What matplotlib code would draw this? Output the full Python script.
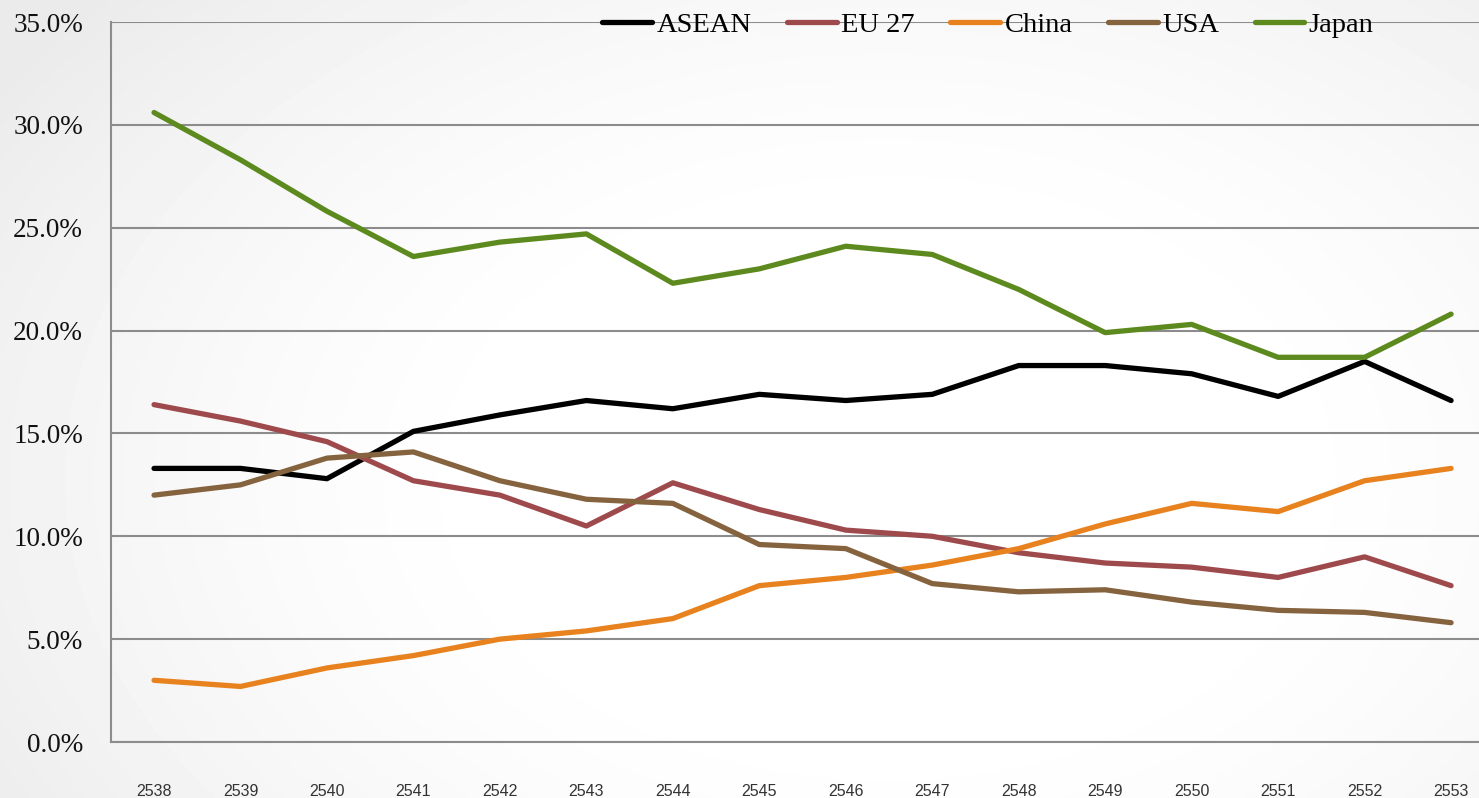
import numpy as np
import matplotlib.pyplot as plt
from matplotlib.ticker import PercentFormatter

years = ['2538', '2539', '2540', '2541', '2542', '2543', '2544', '2545',
         '2546', '2547', '2548', '2549', '2550', '2551', '2552', '2553']

asean = [13.3, 13.3, 12.8, 15.1, 15.9, 16.6, 16.2, 16.9, 16.6, 16.9, 18.3, 18.3, 17.9, 16.8, 18.5, 16.6]
eu27 = [16.4, 15.6, 14.6, 12.7, 12.0, 10.5, 12.6, 11.3, 10.3, 10.0, 9.2, 8.7, 8.5, 8.0, 9.0, 7.6]
china = [3.0, 2.7, 3.6, 4.2, 5.0, 5.4, 6.0, 7.6, 8.0, 8.6, 9.4, 10.6, 11.6, 11.2, 12.7, 13.3]
usa = [12.0, 12.5, 13.8, 14.1, 12.7, 11.8, 11.6, 9.6, 9.4, 7.7, 7.3, 7.4, 6.8, 6.4, 6.3, 5.8]
japan = [30.6, 28.3, 25.8, 23.6, 24.3, 24.7, 22.3, 23.0, 24.1, 23.7, 22.0, 19.9, 20.3, 18.7, 18.7, 20.8]

series = [('ASEAN', asean, '#000000'),
          ('EU 27', eu27, '#9E4A4C'),
          ('China', china, '#E8821E'),
          ('USA', usa, '#85633F'),
          ('Japan', japan, '#5D8A1E')]

fig = plt.figure(figsize=(14.79, 7.98), dpi=100)

# faint gray gradient background, darker toward the left and bottom-right
bg = fig.add_axes([0, 0, 1, 1], zorder=-10)
yy, xx = np.mgrid[0:1:200j, 0:1:400j]
d = np.sqrt(((xx - 0.6) / 0.8) ** 2 + ((yy - 0.6) / 1.0) ** 2)
shade = 1 - 0.08 * np.clip((d - 0.3) / 0.6, 0, 1) ** 1.5
bg.imshow(shade, cmap='gray', vmin=0, vmax=1, aspect='auto', extent=[0, 1, 0, 1],
          interpolation='bilinear')
bg.axis('off')

ax = fig.add_axes([110.8 / 1479, 56 / 798, 1383.5 / 1479, 720 / 798])
ax.set_facecolor('none')

x = np.arange(len(years))
for name, vals, col in series:
    ax.plot(x, vals, color=col, lw=3.8, label=name, solid_capstyle='round', solid_joinstyle='round')

ax.set_xlim(-0.5, len(years) - 0.5)
ax.set_ylim(0, 35)
ax.set_yticks(np.arange(0, 36, 5))
ax.yaxis.set_major_formatter(PercentFormatter(decimals=1))
ax.set_xticks(x)
ax.set_xticklabels(years)
ax.grid(axis='y', color='#8c8c8c', lw=1.5)
ax.set_axisbelow(True)
for s in ['top', 'right']:
    ax.spines[s].set_visible(False)
for s in ['left', 'bottom']:
    ax.spines[s].set_color('#8c8c8c')
    ax.spines[s].set_linewidth(1.5)
ax.tick_params(axis='y', length=0, pad=20, labelsize=19.5)
ax.tick_params(axis='x', length=0, pad=30, labelsize=11.5)
for t in ax.get_yticklabels():
    t.set_fontfamily('Liberation Serif')
    t.set_color('#111111')
for t in ax.get_xticklabels():
    t.set_fontfamily('Liberation Sans')
    t.set_color('#333333')

leg = fig.legend(loc='center', bbox_to_anchor=(0.668, 0.969), ncol=5, frameon=False,
                 prop={'family': 'Liberation Serif', 'size': 20.5},
                 handlelength=1.75, handletextpad=0.15, columnspacing=1.25)

fig.savefig('out.png', dpi=100)
